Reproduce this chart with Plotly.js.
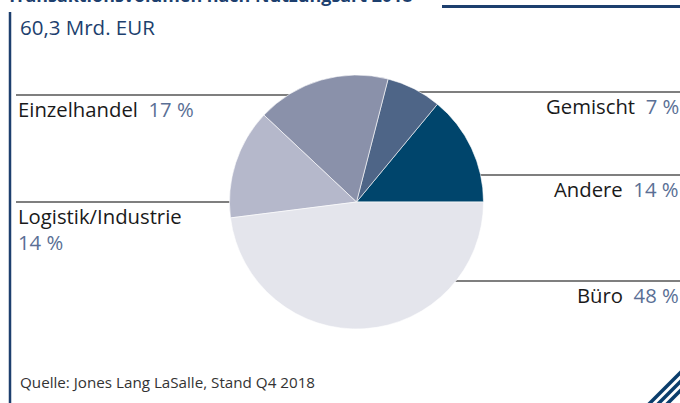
<!DOCTYPE html>
<html>
<head>
<meta charset="utf-8">
<script src="https://cdn.plot.ly/plotly-3.0.1.min.js"></script>
<style>html,body{margin:0;padding:0;background:#fff;}#chart{width:680px;height:403px;}</style>
</head>
<body>
<div id="chart"></div>
<script>
// ---- data ----
const categories = ["Andere", "Gemischt", "Einzelhandel", "Logistik/Industrie", "Büro"];
const shares = [14, 7, 17, 14, 48];
const sliceColors = ["#00456c", "#4e6587", "#8a91aa", "#b5b8cb", "#e4e5ec"];
const chartTitle = "Transaktionsvolumen nach Nutzungsart 2018";
const subTitle = "60,3 Mrd. EUR";
const sourceNote = "Quelle: Jones Lang LaSalle, Stand Q4 2018";

// ---- helpers (pixel -> paper) ----
const W = 680, H = 403;
const px = x => x / W;
const py = y => 1 - y / H;

const FONT = "'Open Sans', Lato, sans-serif";
const NAVY = "#1d3f6e";
const PCT = "#5a6f95";
const TXT = "#1a1a1a";

const cx = 356.5, cy = 202, r = 127;

const trace = {
  type: "pie",
  labels: categories,
  values: shares,
  sort: false,
  direction: "counterclockwise",
  rotation: 39.6,
  textinfo: "none",
  hoverinfo: "label+percent",
  marker: { colors: sliceColors, line: { color: "#ffffff", width: 0.6 } },
  domain: { x: [px(cx - r), px(cx + r)], y: [py(cy + r), py(cy - r)] },
  showlegend: false
};

function lbl(i) {
  return categories[i] + "  <span style='color:" + PCT + "'>" + shares[i] + " %</span>";
}

const LS = 20.3;
const annotations = [
  { text: "<b>" + chartTitle + "</b>", x: px(5), y: py(-5), xanchor: "left", yanchor: "middle",
    font: { family: FONT, size: 17.9, color: NAVY } },
  { text: subTitle, x: px(18), y: py(27), xanchor: "left", yanchor: "middle",
    font: { family: FONT, size: 20.5, color: NAVY } },
  { text: lbl(2), x: px(16), y: py(109), xanchor: "left", yanchor: "middle",
    font: { family: FONT, size: LS, color: TXT } },
  { text: categories[3], x: px(16), y: py(216), xanchor: "left", yanchor: "middle",
    font: { family: FONT, size: LS, color: TXT } },
  { text: "<span style='color:" + PCT + "'>" + shares[3] + " %</span>", x: px(16), y: py(242), xanchor: "left", yanchor: "middle",
    font: { family: FONT, size: LS, color: TXT } },
  { text: lbl(1), x: px(681), y: py(106), xanchor: "right", yanchor: "middle",
    font: { family: FONT, size: LS, color: TXT } },
  { text: lbl(0), x: px(681), y: py(189), xanchor: "right", yanchor: "middle",
    font: { family: FONT, size: LS, color: TXT } },
  { text: lbl(4), x: px(681), y: py(295), xanchor: "right", yanchor: "middle",
    font: { family: FONT, size: LS, color: TXT } },
  { text: sourceNote, x: px(18), y: py(382), xanchor: "left", yanchor: "middle",
    font: { family: FONT, size: 15.2, color: "#333333" } }
].map(a => Object.assign({ xref: "paper", yref: "paper", showarrow: false }, a));

const lineStyle = { color: "#555555", width: 1.3 };
function hline(x0, x1, y) {
  return { type: "line", xref: "paper", yref: "paper", layer: "below",
    x0: px(x0), x1: px(x1), y0: py(y), y1: py(y), line: lineStyle };
}

const shapes = [
  hline(16, 300, 95),
  hline(16, 240, 202),
  hline(400, 680, 92),
  hline(470, 680, 175),
  hline(440, 680, 281),
  // left frame bar
  { type: "line", xref: "paper", yref: "paper", x0: px(10), x1: px(10), y0: py(12), y1: py(403),
    line: { color: NAVY, width: 2.5 } },
  // top-right rule
  { type: "line", xref: "paper", yref: "paper", x0: px(442), x1: px(680), y0: py(6.5), y1: py(6.5),
    line: { color: NAVY, width: 3 } },
  // logo stripes
  { type: "line", xref: "paper", yref: "paper", x0: px(648), x1: px(682), y0: py(405), y1: py(371),
    line: { color: "#0a3d6b", width: 3.5 } },
  { type: "line", xref: "paper", yref: "paper", x0: px(657), x1: px(682), y0: py(405), y1: py(380),
    line: { color: "#0a3d6b", width: 3.5 } },
  { type: "line", xref: "paper", yref: "paper", x0: px(666), x1: px(682), y0: py(405), y1: py(389),
    line: { color: "#0a3d6b", width: 3.5 } }
];

const layout = {
  width: W, height: H,
  margin: { l: 0, r: 0, t: 0, b: 0, pad: 0 },
  paper_bgcolor: "#ffffff",
  plot_bgcolor: "#ffffff",
  showlegend: false,
  annotations: annotations,
  shapes: shapes
};

Plotly.newPlot("chart", [trace], layout, { displayModeBar: false, staticPlot: true });
</script>
</body>
</html>
